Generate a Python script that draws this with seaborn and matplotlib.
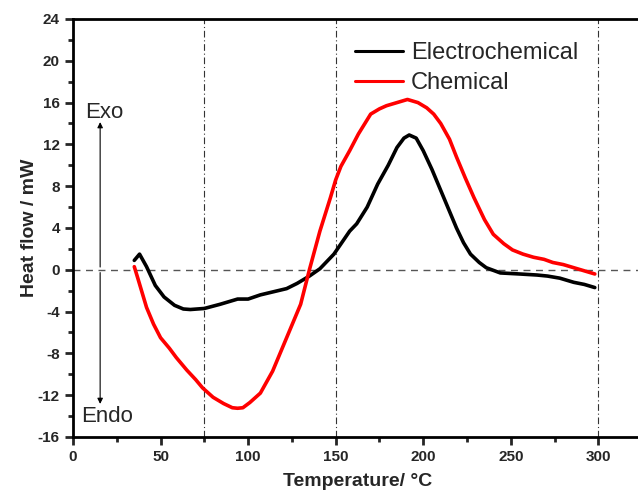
import numpy as np
import pandas as pd
import matplotlib
matplotlib.use("Agg")
import matplotlib.pyplot as plt
from matplotlib.ticker import MultipleLocator
import seaborn as sns

### Data ---------------------------------------------------------------------
# Electrochemical DSC curve
ec_temp = [35, 38, 42, 47, 52, 58, 63, 67, 75, 84, 94, 100, 107, 117, 122, 128,
           135, 141, 149, 158, 162, 168, 174, 180, 185, 189, 192, 196, 200, 205,
           210, 215, 219, 223, 227, 232, 236, 244, 255, 265, 271, 278, 286, 292, 298]
ec_flow = [0.9, 1.5, 0.3, -1.5, -2.6, -3.4, -3.75, -3.8, -3.7, -3.3, -2.8, -2.8,
           -2.4, -2.0, -1.8, -1.3, -0.6, 0.1, 1.5, 3.7, 4.4, 6.0, 8.2, 10.0, 11.7,
           12.6, 12.9, 12.6, 11.4, 9.6, 7.6, 5.6, 4.0, 2.6, 1.5, 0.7, 0.2, -0.3,
           -0.4, -0.5, -0.6, -0.8, -1.2, -1.4, -1.7]

# Chemical DSC curve
ch_temp = [35, 37, 42, 46, 50, 55, 59, 65, 70, 74, 80, 86, 91, 94, 97, 101, 107,
           114, 122, 130, 135, 141, 147, 150, 153, 158, 163, 170, 175, 179, 185,
           191, 197, 202, 206, 210, 215, 219, 224, 229, 235, 240, 246, 251, 257,
           263, 269, 274, 280, 286, 292, 298]
ch_flow = [0.3, -0.8, -3.6, -5.2, -6.5, -7.5, -8.4, -9.6, -10.5, -11.3, -12.2,
           -12.8, -13.2, -13.25, -13.2, -12.7, -11.8, -9.7, -6.5, -3.3, 0.0, 3.7,
           6.9, 8.6, 9.9, 11.4, 13.0, 14.9, 15.4, 15.7, 16.0, 16.3, 16.0, 15.5,
           14.9, 14.0, 12.5, 10.8, 8.8, 6.9, 4.8, 3.4, 2.5, 1.9, 1.5, 1.2, 1.0,
           0.7, 0.5, 0.2, -0.1, -0.4]

series_names = ["Electrochemical", "Chemical"]
series_colors = ["black", "#ff0000"]
guide_temps = [75, 150, 300]

df = pd.concat([
    pd.DataFrame({"T": ec_temp, "HF": ec_flow, "sample": series_names[0]}),
    pd.DataFrame({"T": ch_temp, "HF": ch_flow, "sample": series_names[1]}),
], ignore_index=True)

### Style --------------------------------------------------------------------
sns.set_style("ticks")
plt.rcParams["font.family"] = ["Liberation Sans", "DejaVu Sans"]
plt.rcParams["axes.unicode_minus"] = False

fig = plt.figure(figsize=(6.38, 4.92), dpi=100)
ax = fig.add_axes([73 / 638, 1 - 437 / 492, 0.892, 418 / 492])

# reference lines
ax.axhline(0, color="#555555", lw=1, ls=(0, (5, 4)), zorder=1)
for t in guide_temps:
    ax.axvline(t, color="#333333", lw=0.8, ls=(0, (6, 2.5, 1, 2.5)), zorder=1)

sns.lineplot(data=df, x="T", y="HF", hue="sample", palette=series_colors,
             sort=False, lw=2.6, ax=ax, legend=True)

ax.set_xlim(0, 325)
ax.set_ylim(-16, 24)
ax.xaxis.set_major_locator(MultipleLocator(50))
ax.xaxis.set_minor_locator(MultipleLocator(25))
ax.yaxis.set_major_locator(MultipleLocator(4))
ax.yaxis.set_minor_locator(MultipleLocator(2))

for s in ax.spines.values():
    s.set_linewidth(2)
    s.set_color("black")
ax.tick_params(which="major", direction="out", length=6, width=2, labelsize=11)
ax.tick_params(which="minor", direction="out", length=3.5, width=2)
for lab in ax.get_xticklabels() + ax.get_yticklabels():
    lab.set_fontweight("bold")

ax.set_xlabel("Temperature/ °C", fontsize=14, fontweight="bold", labelpad=6)
ax.set_ylabel("Heat flow / mW", fontsize=14, fontweight="bold", labelpad=0)

# Exo / Endo arrows
arrow = dict(arrowstyle="-|>", color="black", lw=0.8, mutation_scale=8)
ax.annotate("", xy=(15.5, 14.4), xytext=(15.5, 0), arrowprops=arrow)
ax.annotate("", xy=(15.5, -13.1), xytext=(15.5, 0), arrowprops=arrow)
ax.text(18, 15.1, "Exo", fontsize=16, ha="center", va="center")
ax.text(19.5, -14.0, "Endo", fontsize=16, ha="center", va="center")

leg = ax.legend(loc="upper left", bbox_to_anchor=(0.467, 0.985), frameon=False,
                fontsize=17, handlelength=2.0, handletextpad=0.35,
                labelspacing=0.35, borderaxespad=0.3)
for line in leg.get_lines():
    line.set_linewidth(2.2)

fig.savefig("out.png", dpi=100)
